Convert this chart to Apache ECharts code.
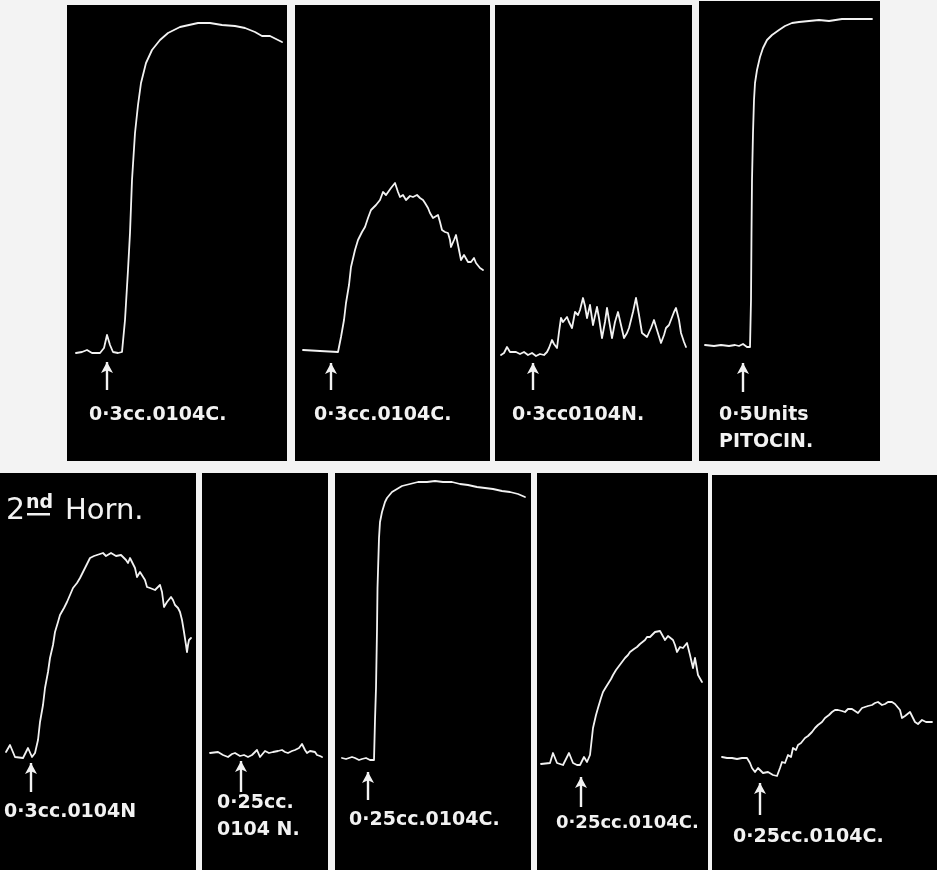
<!DOCTYPE html>
<html>
<head>
<meta charset="utf-8">
<script src="https://cdn.jsdelivr.net/npm/echarts/dist/echarts.min.js"></script>
<style>
  html, body { margin: 0; padding: 0; background: #f3f3f3; }
  #chart { width: 937px; height: 870px; }
</style>
</head>
<body>
<div id="chart"></div>
<script>
// Uterine horn kymograph tracings: [time, lever height] per recording.
const trace1 = [[9,108],[15,109],[20,111],[25,108],[33,108],[37,113],[40,126],[43,116],[46,109],[51,108],[55,109],[58,141],[61,191],[63,228],[65,281],[68,328],[71,356],[74,378],[79,398],[85,411],[93,421],[101,428],[113,434],[131,438],[143,438],[155,436],[168,435],[178,433],[188,429],[195,425],[203,425],[215,419]];
const trace2 = [[8,111],[25,110],[43,109],[46,124],[49,141],[51,158],[54,176],[56,194],[60,211],[63,221],[67,229],[70,234],[73,243],[76,251],[81,256],[85,261],[88,269],[90,271],[91,266],[93,268],[96,273],[100,278],[103,269],[105,264],[108,266],[111,261],[115,265],[118,264],[122,266],[125,263],[128,261],[130,258],[133,253],[135,248],[138,243],[140,241],[143,246],[145,239],[147,231],[150,229],[153,228],[155,221],[156,214],[159,221],[161,226],[164,211],[166,201],[169,206],[171,206],[173,199],[176,199],[179,203],[181,198],[185,193],[188,191]];
const trace3 = [[6,106],[9,108],[12,114],[15,109],[17,108],[21,109],[25,107],[29,109],[33,106],[37,108],[41,105],[45,107],[49,106],[52,109],[54,113],[57,121],[59,117],[62,113],[64,129],[66,143],[68,139],[69,138],[72,144],[74,139],[77,133],[80,149],[83,146],[85,151],[88,163],[90,155],[92,143],[95,156],[98,136],[102,154],[104,143],[107,123],[110,139],[112,153],[114,141],[117,123],[120,139],[123,149],[126,136],[129,123],[132,128],[134,133],[138,149],[141,163],[144,146],[147,128],[152,124],[156,133],[159,141],[162,131],[166,118],[169,126],[171,133],[174,136],[176,138],[179,149],[181,153],[184,141],[186,128],[189,119],[191,114]];
const trace4 = [[6,116],[15,115],[22,116],[30,115],[36,116],[40,115],[44,117],[48,114],[51,114],[52,161],[52.5,228],[53,281],[54,328],[55,361],[56,378],[58,391],[61,404],[64,413],[68,421],[73,426],[80,431],[86,435],[93,438],[100,439],[110,440],[120,441],[130,440],[143,442],[155,442],[165,442],[173,442]];
const trace5 = [[6,118],[10,125],[15,113],[23,112],[28,122],[32,113],[35,117],[38,130],[40,148],[43,165],[45,182],[48,198],[50,212],[53,225],[55,238],[58,248],[60,255],[64,262],[67,268],[70,275],[73,282],[77,287],[80,292],[83,298],[85,302],[88,308],[90,312],[94,314],[97,315],[100,316],[103,317],[106,314],[108,313],[111,317],[113,317],[116,314],[118,312],[121,315],[123,315],[126,310],[128,307],[130,312],[132,313],[135,302],[137,293],[140,298],[142,300],[145,290],[147,283],[150,282],[152,282],[155,280],[157,278],[160,285],[162,278],[164,263],[167,268],[169,270],[171,273],[173,270],[175,265],[178,262],[180,258],[182,250],[184,238],[186,225],[187,218],[188,225],[189,230],[191,232]];
const trace6 = [[8,117],[16,118],[21,115],[26,113],[30,116],[33,117],[38,114],[42,115],[46,113],[50,115],[55,120],[58,113],[63,119],[67,117],[71,118],[76,119],[80,120],[83,118],[86,117],[90,119],[93,120],[97,122],[100,126],[103,120],[105,117],[108,119],[110,120],[113,118],[115,115],[118,114],[120,113]];
const trace7 = [[7,112],[11,111],[13,110],[17,113],[20,112],[24,110],[27,111],[31,112],[35,110],[39,110],[40,150],[41,182],[42,240],[42.5,282],[44,332],[45,348],[47,358],[50,368],[52,372],[57,378],[62,381],[67,384],[75,386],[83,388],[92,388],[100,389],[108,388],[117,388],[125,386],[133,385],[142,383],[150,382],[158,381],[167,379],[175,378],[183,376],[190,373]];
const trace8 = [[4,106],[13,107],[16,117],[20,107],[26,105],[32,117],[36,107],[40,105],[43,105],[47,113],[50,108],[53,115],[56,142],[59,155],[61,162],[64,172],[66,178],[69,183],[71,185],[74,191],[76,195],[79,200],[81,202],[85,208],[88,212],[91,215],[93,218],[97,221],[100,223],[103,226],[105,228],[108,230],[110,233],[113,233],[115,235],[118,238],[120,240],[123,239],[125,238],[128,230],[131,234],[133,235],[136,230],[138,225],[140,218],[143,223],[146,222],[150,227],[153,215],[156,202],[158,212],[161,195],[165,188]];
const trace9 = [[10,113],[15,112],[20,112],[25,111],[30,112],[35,112],[38,107],[40,102],[43,98],[46,102],[48,100],[51,97],[53,95],[56,98],[58,97],[61,95],[65,94],[68,102],[70,108],[73,107],[76,115],[79,113],[81,122],[84,120],[86,125],[89,127],[93,132],[96,134],[100,138],[103,142],[106,145],[110,148],[113,152],[117,155],[120,158],[123,160],[126,160],[130,159],[133,158],[136,161],[140,161],[143,159],[146,157],[150,162],[153,163],[156,164],[160,165],[163,167],[166,168],[170,165],[173,166],[176,168],[180,168],[183,166],[185,167],[188,160],[190,152],[193,154],[195,155],[198,158],[201,152],[203,148],[206,146],[208,145],[210,150],[212,151],[214,148],[216,147],[220,148]];

const traces = [trace1, trace2, trace3, trace4, trace5, trace6, trace7, trace8, trace9];

// Time of each injection
const injectionAt = [40, 36, 38, 44, 31, 39, 33, 44, 48];

// Dose captions (one or two lines each)
const doseLabels = [
  ['0·3cc.0104C.'],
  ['0·3cc.0104C.'],
  ['0·3cc0104N.'],
  ['0·5Units', 'PITOCIN.'],
  ['0·3cc.0104N'],
  ['0·25cc.', '0104 N.'],
  ['0·25cc.0104C.'],
  ['0·25cc.0104C.'],
  ['0·25cc.0104C.']
];

// Panel frames in pixels, with arrow extent, caption placement and caption size
const layout = [
  { left: 67,  top: 5,   width: 220, height: 456, arrow: [71, 99],  cap: [89, 415],  fs: 19 },
  { left: 295, top: 5,   width: 195, height: 456, arrow: [71, 98],  cap: [314, 415], fs: 19 },
  { left: 495, top: 5,   width: 197, height: 456, arrow: [71, 98],  cap: [512, 415], fs: 19 },
  { left: 699, top: 1,   width: 181, height: 460, arrow: [69, 98],  cap: [719, 415], fs: 19 },
  { left: 0,   top: 473, width: 196, height: 397, arrow: [78, 107], cap: [4, 812],   fs: 19 },
  { left: 202, top: 473, width: 126, height: 397, arrow: [78, 109], cap: [217, 803], fs: 19 },
  { left: 335, top: 473, width: 196, height: 397, arrow: [70, 98],  cap: [349, 820], fs: 19 },
  { left: 537, top: 473, width: 171, height: 397, arrow: [63, 93],  cap: [556, 823], fs: 18 },
  { left: 712, top: 475, width: 225, height: 395, arrow: [55, 87],  cap: [733, 837], fs: 19 }
];

const INK = '#f2f2f2';
const FONT = '"DejaVu Sans", sans-serif';

const grid = [], xAxis = [], yAxis = [], series = [], graphic = [];

layout.forEach((p, i) => {
  grid.push({
    left: p.left, top: p.top, width: p.width, height: p.height,
    show: true, backgroundColor: '#000', borderWidth: 0
  });
  xAxis.push({ type: 'value', gridIndex: i, min: 0, max: p.width, show: false });
  yAxis.push({ type: 'value', gridIndex: i, min: 0, max: p.height, show: false });
  series.push({
    type: 'line',
    xAxisIndex: i, yAxisIndex: i,
    data: traces[i],
    showSymbol: false,
    lineStyle: { color: INK, width: 1.8, join: 'round', cap: 'round' },
    markLine: {
      silent: true,
      symbol: ['none', 'arrow'],
      symbolSize: [9, 11],
      label: { show: false },
      lineStyle: { color: INK, width: 2.4, type: 'solid' },
      data: [[
        { coord: [injectionAt[i], p.arrow[0]] },
        { coord: [injectionAt[i], p.arrow[1]] }
      ]]
    }
  });
  doseLabels[i].forEach((line, k) => {
    graphic.push({
      type: 'text',
      x: p.cap[0], y: p.cap[1] + k * 27,
      style: { text: line, fill: INK, font: 'bold ' + p.fs + 'px ' + FONT, verticalAlign: 'middle' }
    });
  });
});

// Heading of the second horn series
graphic.push(
  { type: 'text', x: 6, y: 526, style: { text: '2', fill: INK, font: '30px ' + FONT, verticalAlign: 'bottom' } },
  { type: 'text', x: 26, y: 513, style: { text: 'nd', fill: INK, font: 'bold 19px ' + FONT, verticalAlign: 'bottom' } },
  { type: 'rect', shape: { x: 27, y: 513, width: 23, height: 2.5 }, style: { fill: INK } },
  { type: 'text', x: 65, y: 526, style: { text: 'Horn.', fill: INK, font: '29px ' + FONT, verticalAlign: 'bottom' } }
);

const chart = echarts.init(document.getElementById('chart'), null, { renderer: 'canvas' });
chart.setOption({
  animation: false,
  backgroundColor: '#f3f3f3',
  grid, xAxis, yAxis, series, graphic
});
</script>
</body>
</html>
